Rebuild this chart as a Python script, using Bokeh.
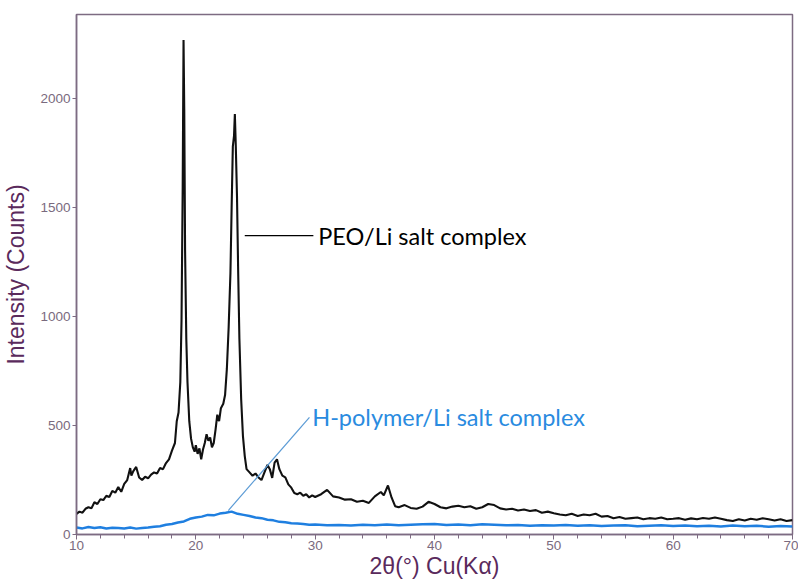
from bokeh.plotting import figure
from bokeh.models import Range1d, FixedTicker
from bokeh.core.properties import value
from bokeh.embed import file_html
from bokeh.resources import INLINE

# PEO / Li salt complex (black)
peo_x = [10.0, 10.25, 10.5, 10.75, 11.0, 11.25, 11.5, 11.75, 12.0, 12.25, 12.5, 12.75,
         13.0, 13.25, 13.5, 13.75, 14.0, 14.25, 14.5, 14.6, 14.75, 15.0, 15.25, 15.5,
         15.75, 16.0, 16.25, 16.5, 16.75, 17.0, 17.25, 17.5, 17.75, 18.0, 18.25, 18.4,
         18.55, 18.7, 18.8, 18.9, 18.97, 19.03, 19.1, 19.2, 19.3, 19.45, 19.6, 19.75,
         19.9, 20.0, 20.15, 20.3, 20.45, 20.6, 20.75, 20.9, 21.05, 21.2, 21.35, 21.5,
         21.65, 21.8, 21.95, 22.1, 22.3, 22.45, 22.6, 22.75, 22.9, 23.0, 23.1, 23.2,
         23.27, 23.35, 23.45, 23.55, 23.65, 23.8, 23.95, 24.1, 24.25, 24.5, 24.75, 25.0,
         25.25, 25.5, 25.75, 26.0, 26.2, 26.4, 26.6, 26.8, 27.0, 27.25, 27.5, 27.75,
         28.0, 28.25, 28.5, 28.75, 29.0, 29.25, 29.5, 29.75, 30.0, 30.5, 31.0, 31.5,
         32.0, 32.5, 33.0, 33.5, 34.0, 34.5, 35.0, 35.5, 35.75, 36.1, 36.4, 36.7,
         37.0, 37.5, 38.0, 38.5, 39.0, 39.5, 40.0, 40.5, 41.0, 41.5, 42.0, 42.5,
         43.0, 43.5, 44.0, 44.5, 45.0, 45.5, 46.0, 46.5, 47.0, 47.5, 48.0, 48.5,
         49.0, 49.5, 50.0, 50.5, 51.0, 51.5, 52.0, 52.5, 53.0, 53.5, 54.0, 54.5,
         55.0, 55.5, 56.0, 56.5, 57.0, 57.5, 58.0, 58.5, 59.0, 59.5, 60.0, 60.5,
         61.0, 61.5, 62.0, 62.5, 63.0, 63.5, 64.0, 64.5, 65.0, 65.5, 66.0, 66.5,
         67.0, 67.5, 68.0, 68.5, 69.0, 69.5, 70.0]
peo_y = [95, 105, 100, 118, 125, 120, 148, 140, 162, 158, 178, 172,
         200, 192, 218, 196, 232, 250, 305, 270, 290, 310, 262, 250,
         265, 258, 275, 285, 280, 305, 300, 328, 345, 385, 420, 520,
         560, 700, 980, 1600, 2270, 1950, 1300, 900, 700, 520, 440, 400,
         380, 410, 370, 395, 345, 390, 420, 460, 430, 445, 400, 420,
         480, 550, 520, 580, 600, 640, 760, 950, 1200, 1500, 1780, 1830,
         1930, 1780, 1550, 1200, 900, 620, 450, 360, 300, 285, 270, 280,
         262, 250, 285, 320, 300, 260, 330, 345, 300, 270, 262, 230,
         215, 190, 185, 192, 178, 185, 170, 180, 172, 185, 205, 175,
         170, 160, 162, 150, 155, 145, 175, 195, 180, 225, 170, 130,
         125, 135, 122, 118, 128, 150, 140, 125, 120, 128, 132, 125,
         130, 118, 125, 140, 135, 120, 115, 118, 110, 115, 108, 112,
         100, 105, 98, 92, 88, 95, 85, 92, 88, 95, 82, 85,
         75, 80, 72, 75, 78, 70, 75, 72, 78, 70, 72, 75,
         68, 74, 70, 76, 72, 78, 72, 66, 62, 70, 64, 72,
         68, 75, 70, 64, 70, 62, 66]

# H-polymer / Li salt complex (blue)
hp_x = [10.0, 10.5, 11.0, 11.5, 12.0, 12.5, 13.0, 13.5, 14.0, 14.5, 15.0, 15.5,
        16.0, 16.5, 17.0, 17.5, 18.0, 18.5, 19.0, 19.5, 20.0, 20.5, 21.0, 21.5,
        22.0, 22.5, 23.0, 23.5, 24.0, 24.5, 25.0, 25.5, 26.0, 26.5, 27.0, 27.5,
        28.0, 28.5, 29.0, 29.5, 30.0, 31.0, 32.0, 33.0, 34.0, 35.0, 36.0, 37.0,
        38.0, 39.0, 40.0, 41.0, 42.0, 43.0, 44.0, 45.0, 46.0, 47.0, 48.0, 49.0,
        50.0, 51.0, 52.0, 53.0, 54.0, 55.0, 56.0, 57.0, 58.0, 59.0, 60.0, 61.0,
        62.0, 63.0, 64.0, 65.0, 66.0, 67.0, 68.0, 69.0, 70.0]
hp_y = [32, 28, 34, 30, 33, 28, 31, 30, 28, 32, 27, 30,
        32, 36, 38, 45, 48, 55, 60, 72, 78, 82, 90, 88,
        96, 100, 105, 95, 90, 85, 78, 75, 68, 65, 58, 56,
        52, 50, 48, 45, 46, 42, 44, 41, 45, 43, 46, 42,
        45, 47, 48, 44, 46, 43, 47, 45, 42, 44, 40, 43,
        41, 44, 40, 42, 39, 41, 43, 38, 40, 42, 39, 41,
        38, 40, 37, 41, 38, 40, 36, 39, 37]

x_ticks = [10, 20, 30, 40, 50, 60, 70]
y_ticks = [0, 500, 1000, 1500, 2000]

frame_col = "#7d6b82"
tick_col = "#7a6a7e"
title_col = "#5a2a5c"

p = figure(width=798, height=582, output_backend="svg", toolbar_location=None,
           x_range=Range1d(10, 70), y_range=Range1d(0, 2387),
           min_border_left=75, min_border_right=6, min_border_top=14, min_border_bottom=48)
p.grid.visible = False
p.outline_line_color = frame_col
p.outline_line_width = 1.5

p.line(hp_x, hp_y, line_color="#1f7fe0", line_width=2.5)
p.line(peo_x, peo_y, line_color="#111111", line_width=2.1)

# annotations
p.segment(x0=[24.1], y0=[1372], x1=[29.85], y1=[1372], line_color="black", line_width=1.3)
p.segment(x0=[22.72], y0=[110], x1=[29.52], y1=[538], line_color="#5b9bd5", line_width=1.2)
p.text(x=[30.25], y=[1372], text=["PEO/Li salt complex"], text_font=value("Lato"),
       text_font_size="23.5px", text_color="black", text_baseline="middle", text_align="left")
p.text(x=[29.75], y=[538], text=["H-polymer/Li salt complex"], text_font=value("Lato"),
       text_font_size="23.5px", text_color="#2a8be0", text_baseline="middle", text_align="left")

for ax in (p.xaxis[0], p.yaxis[0]):
    ax.axis_line_color = frame_col
    ax.axis_line_width = 1.5
    ax.major_tick_line_color = frame_col
    ax.minor_tick_line_color = frame_col
    ax.major_tick_in = 0
    ax.minor_tick_in = 0
    ax.major_label_text_font = "Liberation Sans"
    ax.major_label_text_font_size = "13.5px"
    ax.major_label_text_color = tick_col
    ax.axis_label_text_font = "Liberation Sans"
    ax.axis_label_text_font_style = "normal"
    ax.axis_label_text_color = title_col
    ax.axis_label_text_font_size = "23px"

p.xaxis[0].ticker = FixedTicker(ticks=x_ticks, minor_ticks=list(range(10, 71, 2)))
p.xaxis[0].major_tick_out = 5
p.xaxis[0].minor_tick_out = 4
p.xaxis[0].major_label_standoff = 1
p.xaxis[0].axis_label = "2θ(°) Cu(Kα)"
p.xaxis[0].axis_label_standoff = 0

p.yaxis[0].ticker = FixedTicker(ticks=y_ticks, minor_ticks=[])
p.yaxis[0].major_tick_out = 4
p.yaxis[0].major_label_standoff = 2
p.yaxis[0].axis_label = "Intensity (Counts)"
p.yaxis[0].axis_label_standoff = 8

open("out.html", "w").write(file_html(p, INLINE))
